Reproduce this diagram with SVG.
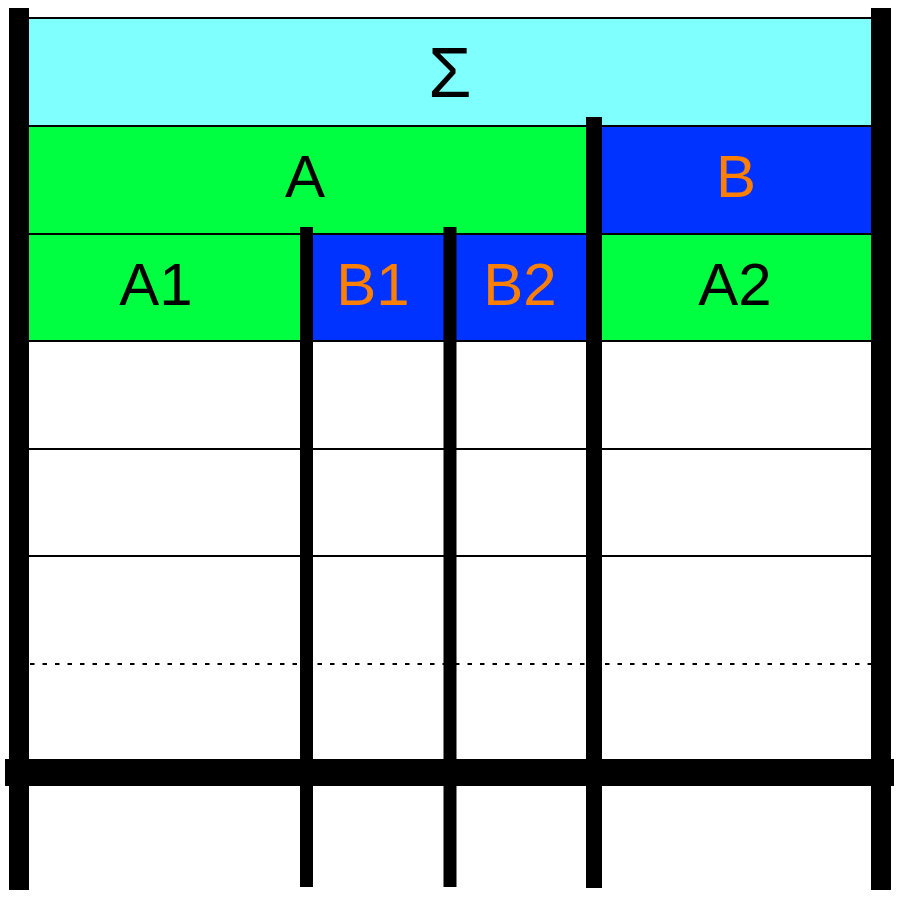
<svg xmlns="http://www.w3.org/2000/svg" width="900" height="898" viewBox="0 0 900 898">
<style>
.cyan{fill:#80FFFF}
.green{fill:#00FF40}
.blue{fill:#0033FF}
.rule{stroke:#000;stroke-width:2.2;fill:none}
.dot{stroke:#000;stroke-width:2.2;stroke-dasharray:4.5 8;fill:none}
.bar{fill:#000}
.t{font-family:"Liberation Sans",Arial,sans-serif;font-size:60px;text-anchor:middle}
.k{fill:#000}
.o{fill:#FF8000}
</style>
<rect width="900" height="898" fill="#fff"/>
<g id="cells">
<g id="sigma"><rect class="cyan" x="29" y="18" width="842" height="108"/><text class="t k" x="450" y="97" style="font-size:70px">Σ</text></g>
<g id="A"><rect class="green" x="29" y="126" width="565" height="108"/><text class="t k" x="305" y="197">A</text></g>
<g id="B"><rect class="blue" x="594" y="126" width="277" height="108"/><text class="t o" x="736" y="197">B</text></g>
<g id="A1"><rect class="green" x="29" y="234" width="277" height="107"/><text class="t k" x="156" y="305">A1</text></g>
<g id="B1"><rect class="blue" x="306" y="234" width="144" height="107"/><text class="t o" x="373" y="305">B1</text></g>
<g id="B2"><rect class="blue" x="450" y="234" width="144" height="107"/><text class="t o" x="520" y="305">B2</text></g>
<g id="A2"><rect class="green" x="594" y="234" width="277" height="107"/><text class="t k" x="735" y="305">A2</text></g>
</g>
<g id="connectors">
<line class="rule" x1="29" y1="18" x2="871" y2="18"/>
<line class="rule" x1="29" y1="126" x2="871" y2="126"/>
<line class="rule" x1="29" y1="234" x2="871" y2="234"/>
<line class="rule" x1="29" y1="341" x2="871" y2="341"/>
<line class="rule" x1="29" y1="449" x2="871" y2="449"/>
<line class="rule" x1="29" y1="556" x2="871" y2="556"/>
<line class="dot" x1="30" y1="664" x2="871" y2="664"/>
<rect class="bar" x="9" y="8" width="20" height="882"/>
<rect class="bar" x="871" y="8" width="20" height="882"/>
<rect class="bar" x="300" y="227" width="13" height="660"/>
<rect class="bar" x="443.5" y="227" width="13" height="660"/>
<rect class="bar" x="586" y="117" width="16" height="771"/>
<rect class="bar" x="5" y="759" width="889" height="27"/>
</g>
</svg>
